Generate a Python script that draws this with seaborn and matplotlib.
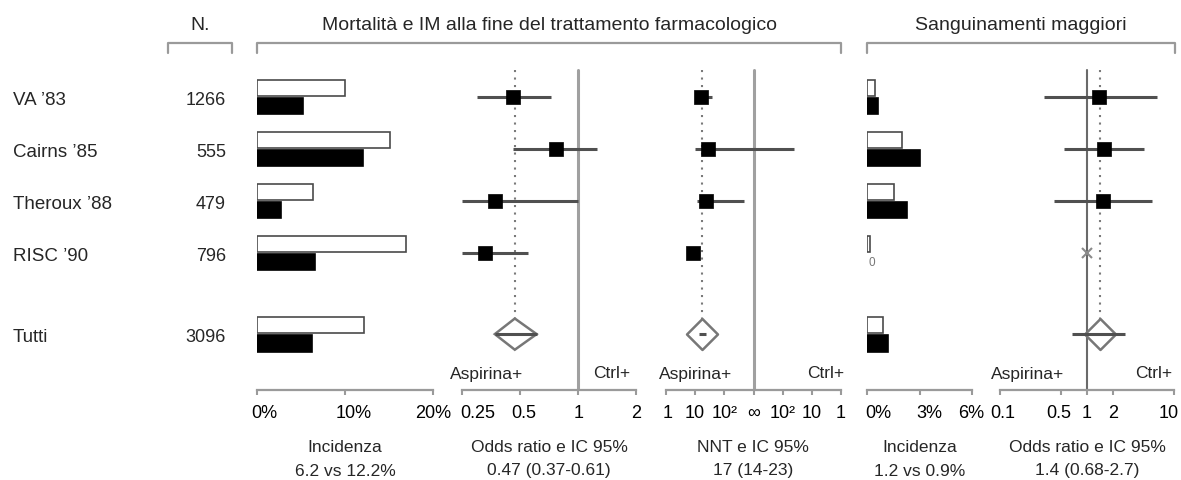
import numpy as np
import pandas as pd
import matplotlib
matplotlib.use("Agg")
import matplotlib.pyplot as plt
import seaborn as sns
from matplotlib.lines import Line2D
from matplotlib.patches import Polygon
from matplotlib.path import Path
import matplotlib.transforms as mtransforms
from matplotlib.colors import to_rgb

# ---------------- data ----------------
studies = ["VA ’83", "Cairns ’85", "Theroux ’88", "RISC ’90", "Tutti"]
n_patients = [1266, 555, 479, 796, 3096]

# Mortality / MI incidence (%) : control (white) and aspirin (black)
mort_ctrl = [10.0, 15.1, 6.4, 16.9, 12.2]
mort_asp = [5.2, 12.1, 2.7, 6.6, 6.2]

# Mortality / MI odds ratios
mort_or = [0.46, 0.77, 0.37, 0.33, 0.47]
mort_or_lo = [0.30, 0.46, 0.25, 0.25, 0.37]
mort_or_hi = [0.72, 1.26, 1.00, 0.55, 0.61]

# NNT (positive = number needed to treat, negative = number needed to harm)
nnt = [16, 28, 24, 8.5, 17]
nnt_lo = [13, 10, 11.7, 7.5, 14]
nnt_hi = [39, -42, 460, 10, 23]

# Major bleeding incidence (%)
bleed_ctrl = [0.45, 2.0, 1.55, 0.15, 0.9]
bleed_asp = [0.65, 3.0, 2.3, 0.0, 1.2]

# Major bleeding odds ratios
bleed_or = [1.37, 1.57, 1.53, 1.0, 1.4]
bleed_or_lo = [0.32, 0.54, 0.42, np.nan, 0.68]
bleed_or_hi = [6.4, 4.5, 5.6, np.nan, 2.7]
bleed_estimable = [True, True, True, False, True]

mort_inc_ticks = [0, 10, 20]
mort_inc_labels = ["0%", "10%", "20%"]
mort_or_ticks = [0.25, 0.5, 1, 2]
mort_or_labels = ["0.25", "0.5", "1", "2"]
nnt_tick_labels = ["1", "10", "10²", "∞", "10²", "10", "1"]
bleed_inc_ticks = [0, 3, 6]
bleed_inc_labels = ["0%", "3%", "6%"]
bleed_or_ticks = [0.1, 0.5, 1, 2, 10]
bleed_or_labels = ["0.1", "0.5", "1", "2", "10"]

col_titles = ["N.", "Mortalità e IM alla fine del trattamento farmacologico",
              "Sanguinamenti maggiori"]
bottom_titles = ["Incidenza", "Odds ratio e IC 95%", "NNT e IC 95%",
                 "Incidenza", "Odds ratio e IC 95%"]
bottom_values = ["6.2 vs 12.2%", "0.47 (0.37-0.61)", "17 (14-23)",
                 "1.2 vs 0.9%", "1.4 (0.68-2.7)"]

# ---------------- layout ----------------
sns.set_theme(style="white")
plt.rcParams["font.family"] = ["Liberation Sans", "DejaVu Sans"]

W, H = 1181, 480
fig = plt.figure(figsize=(W / 100, H / 100), dpi=100)

row_y = [0, 1, 2, 3, 4.56]
ROW0, ROWH = 97, 52          # pixel y of first row and row spacing
AX_TOP, AX_BOT = 60, 390     # pixel extent of panels
ylim = ((AX_BOT - ROW0) / ROWH, (AX_TOP - ROW0) / ROWH)
LINE_TOP = (70 - ROW0) / ROWH
VFRAC = (AX_BOT - 70) / (AX_BOT - AX_TOP)

GREY = "#9a9a9a"
CI_COL = "#505050"
FS_TICK = 13


def fx(px):
    return px / W


def fy(py):
    return 1 - py / H


def add_panel(x0, x1):
    ax = fig.add_axes([fx(x0), fy(AX_BOT), (x1 - x0) / W, (AX_BOT - AX_TOP) / H])
    ax.set_ylim(*ylim)
    ax.set_facecolor("none")
    for s in ["left", "right", "top"]:
        ax.spines[s].set_visible(False)
    ax.spines["bottom"].set_color(GREY)
    ax.spines["bottom"].set_linewidth(1.6)
    ax.set_yticks([])
    ax.tick_params(axis="x", direction="out", length=3.5, width=1.5, color=GREY,
                   pad=7.5, labelsize=FS_TICK, labelcolor="black", bottom=True)
    ax.minorticks_off()
    ax.set_xlabel("")
    ax.set_ylabel("")
    return ax


def shift_ticklabels(ax, shifts_px):
    for lab, dx in zip(ax.get_xticklabels(), shifts_px):
        lab.set_transform(lab.get_transform()
                          + mtransforms.ScaledTranslation(dx / 100, 0, fig.dpi_scale_trans))


def bars(ax, ctrl, asp, xmax):
    df = pd.DataFrame({
        "value": list(ctrl) + list(asp),
        "row": row_y + row_y,
        "group": ["Ctrl"] * len(ctrl) + ["Asp"] * len(asp),
    })
    sns.barplot(data=df, x="value", y="row", hue="group", hue_order=["Ctrl", "Asp"],
                palette={"Ctrl": "white", "Asp": "black"}, orient="h",
                native_scale=True, dodge=True, width=0.7, gap=0.08,
                edgecolor="#4a4a4a", linewidth=1.2, errorbar=None, legend=False, ax=ax)
    for p in ax.patches:
        if p.get_width() == 0:
            p.set_visible(False)
        elif sum(to_rgb(p.get_facecolor()[:3])) < 0.5:
            p.set_edgecolor("black")
    for r, v in zip(row_y, asp):
        if v == 0:
            ax.annotate("0", (0, r + 0.19), xytext=(1.0, 0), textcoords="offset points",
                        ha="left", va="center", fontsize=8.5, color="#777777")
    ax.set_xlim(0, xmax)
    ax.set_ylim(*ylim)
    ax.set_xlabel("")
    ax.set_ylabel("")


diamond_path = Path([(-1, 0), (0, 1), (1, 0), (0, -1), (-1, 0)],
                    [Path.MOVETO, Path.LINETO, Path.LINETO, Path.LINETO, Path.CLOSEPOLY])


def forest(ax, est, lo, hi, ok=None, diamond_poly=False):
    n = len(est)
    ok = ok if ok is not None else [True] * n
    xs, ys = [], []
    for i in range(n - 1):
        if ok[i]:
            ax.hlines(row_y[i], lo[i], hi[i], color=CI_COL, lw=2.2, zorder=4, clip_on=False)
            xs.append(est[i]); ys.append(row_y[i])
        else:
            ax.plot(est[i], row_y[i], marker="x", ms=7, mew=1.5, color="#8a8a8a",
                    ls="none", zorder=5)
    sns.scatterplot(x=xs, y=ys, marker="s", s=112, color="black", edgecolor="black",
                    linewidth=0.5, zorder=5, ax=ax, legend=False)
    r = row_y[-1]
    ax.vlines(est[-1], LINE_TOP, r - 0.3, colors="#7a7a7a", linestyles=(0, (1, 2.6)),
              lw=1.5, zorder=2)
    if diamond_poly:
        poly = Polygon([(lo[-1], r), (est[-1], r - 0.3), (hi[-1], r), (est[-1], r + 0.3)],
                       closed=True, facecolor="white", edgecolor="#777777", lw=1.8, zorder=3)
        ax.add_patch(poly)
    else:
        ax.plot(est[-1], r, marker=diamond_path, ms=22.3, mfc="white", mec="#777777",
                mew=1.8, ls="none", zorder=3)
    ax.hlines(r, lo[-1], hi[-1], color=CI_COL, lw=2.2, zorder=6, clip_on=False)


# Panel 1: mortality incidence
ax1 = add_panel(257, 433)
bars(ax1, mort_ctrl, mort_asp, 20)
ax1.set_xticks(mort_inc_ticks, mort_inc_labels)

# Panel 2: mortality odds ratio
ax2 = add_panel(462, 636)
ax2.set_xscale("log", base=2)
ax2.axvline(1, 0, VFRAC, color="#a0a0a0", lw=2.2, zorder=1)
forest(ax2, mort_or, mort_or_lo, mort_or_hi, diamond_poly=True)
ax2.set_xlim(0.25, 2)
ax2.set_xticks(mort_or_ticks, mort_or_labels)
ax2.minorticks_off()
ax2.set_ylim(*ylim)


# Panel 3: NNT
def nnt_pos(v):
    v = np.asarray(v, dtype=float)
    return np.where(v > 0, np.log10(np.abs(v)) - 3, 3 - np.log10(np.abs(v)))


ax3 = add_panel(666, 841)
ax3.axvline(0, 0, VFRAC, color="#a0a0a0", lw=2.2, zorder=1)
forest(ax3, nnt_pos(nnt), nnt_pos(nnt_lo), nnt_pos(nnt_hi))
ax3.set_xlim(-3, 3)
ax3.set_xticks(np.arange(-3, 4), nnt_tick_labels)
ax3.set_ylim(*ylim)

# Panel 4: bleeding incidence
ax4 = add_panel(867, 972)
bars(ax4, bleed_ctrl, bleed_asp, 6)
ax4.set_xticks(bleed_inc_ticks, bleed_inc_labels)

# Panel 5: bleeding odds ratio
ax5 = add_panel(1000, 1174)
ax5.set_xscale("log")
ax5.axvline(1, 0, VFRAC, color="#6a6a6a", lw=1.5, zorder=1)
forest(ax5, bleed_or, bleed_or_lo, bleed_or_hi, ok=bleed_estimable)
ax5.set_xlim(0.1, 10)
ax5.set_xticks(bleed_or_ticks, bleed_or_labels)
ax5.minorticks_off()
ax5.set_ylim(*ylim)

# Tick-label nudges (as placed in the original layout)
shift_ticklabels(ax1, [7, 9, 0])
shift_ticklabels(ax2, [16, 4, 1, 0])
shift_ticklabels(ax3, [2, 0, 0, 0, 0, 0, 0])
shift_ticklabels(ax4, [11, 10, -1])
shift_ticklabels(ax5, [3, -2, 0, 0, -5])

# Row labels and patient numbers
trans = mtransforms.blended_transform_factory(fig.transFigure, ax1.transData)
for r, name, n in zip(row_y, studies, n_patients):
    fig.text(fx(13), r + 0.06, name, transform=trans, ha="left", va="center", fontsize=13.5)
    fig.text(fx(226), r + 0.06, str(n), transform=trans, ha="right", va="center", fontsize=13)

# Column titles and brackets
title_x = [200, 549, 1021]
bracket_x = [(168, 232), (257, 841), (867, 1175)]
for t, cx, (b0, b1) in zip(col_titles, title_x, bracket_x):
    fig.text(fx(cx), fy(25), t, ha="center", va="center", fontsize=14)
    fig.add_artist(Line2D([fx(b0), fx(b0), fx(b1), fx(b1)],
                          [fy(53), fy(43), fy(43), fy(53)],
                          color=GREY, lw=1.6, transform=fig.transFigure))

# Aspirina+ / Ctrl+ direction labels
for left_px, right_px in [(450, 630), (659, 844), (991, 1172)]:
    fig.text(fx(left_px), fy(374), "Aspirina+", ha="left", va="center", fontsize=12.5)
    fig.text(fx(right_px), fy(374), "Ctrl+", ha="right", va="center", fontsize=12.5)

# Bottom captions
panel_centers = [345, 549, 753, 920, 1087]
for cx, t1, t2 in zip(panel_centers, bottom_titles, bottom_values):
    fig.text(fx(cx), fy(447), t1, ha="center", va="center", fontsize=12.5)
    fig.text(fx(cx), fy(471), t2, ha="center", va="center", fontsize=12.5)

fig.savefig("out.png", dpi=100, facecolor="white")
